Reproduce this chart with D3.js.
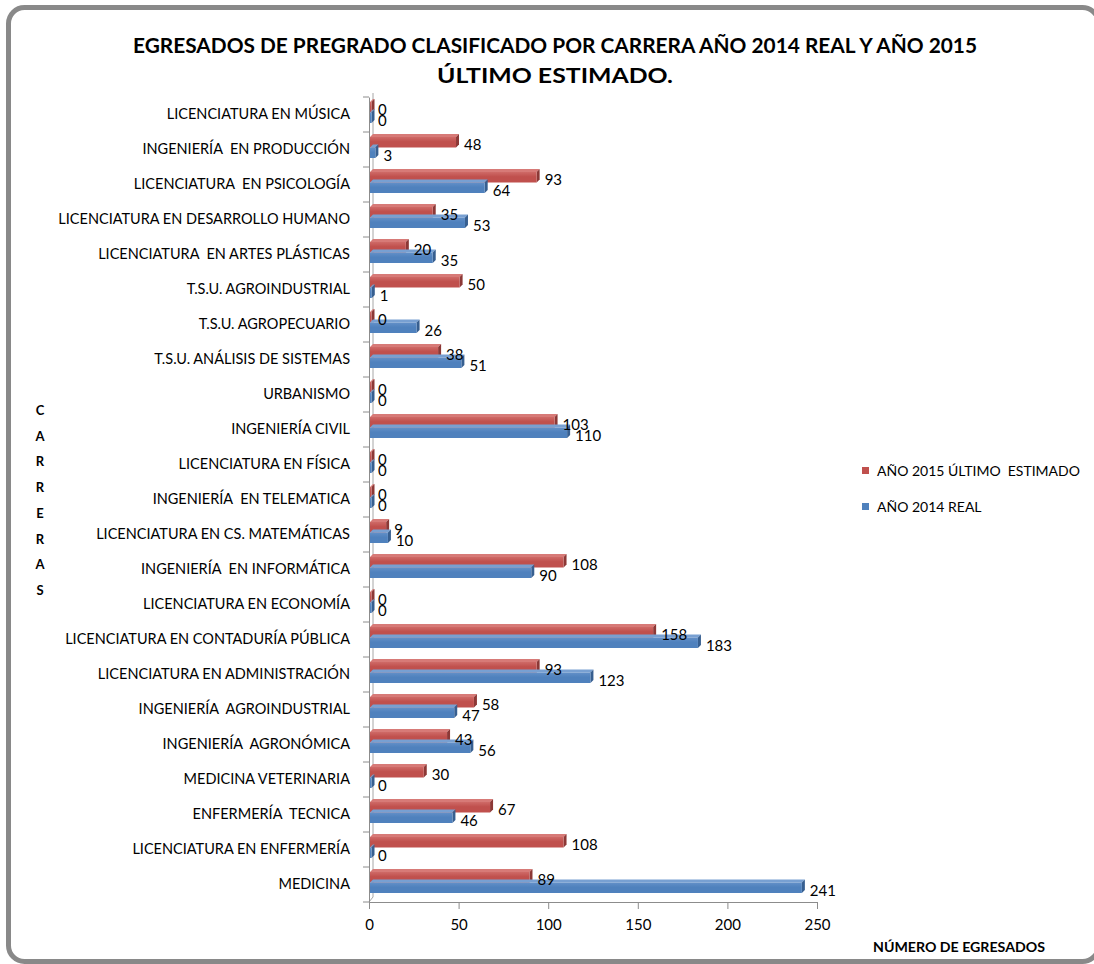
<!DOCTYPE html>
<html>
<head>
<meta charset="utf-8">
<script src="https://cdn.jsdelivr.net/npm/d3@7"></script>
<style>
  body { margin: 0; background: #fff; }
  text { font-family: Lato, "Liberation Sans", sans-serif; fill: #000; }
</style>
</head>
<body>
<div class="chart_wrapper"></div>
<script>
// carreras, de arriba hacia abajo
const carreras = [
  "LICENCIATURA EN MÚSICA",
  "INGENIERÍA  EN PRODUCCIÓN",
  "LICENCIATURA  EN PSICOLOGÍA",
  "LICENCIATURA EN DESARROLLO HUMANO",
  "LICENCIATURA  EN ARTES PLÁSTICAS",
  "T.S.U. AGROINDUSTRIAL",
  "T.S.U. AGROPECUARIO",
  "T.S.U. ANÁLISIS DE SISTEMAS",
  "URBANISMO",
  "INGENIERÍA CIVIL",
  "LICENCIATURA EN FÍSICA",
  "INGENIERÍA  EN TELEMATICA",
  "LICENCIATURA EN CS. MATEMÁTICAS",
  "INGENIERÍA  EN INFORMÁTICA",
  "LICENCIATURA EN ECONOMÍA",
  "LICENCIATURA EN CONTADURÍA PÚBLICA",
  "LICENCIATURA EN ADMINISTRACIÓN",
  "INGENIERÍA  AGROINDUSTRIAL",
  "INGENIERÍA  AGRONÓMICA",
  "MEDICINA VETERINARIA",
  "ENFERMERÍA  TECNICA",
  "LICENCIATURA EN ENFERMERÍA",
  "MEDICINA"
]
const estimado2015 = [0, 48, 93, 35, 20, 50, 0, 38, 0, 103, 0, 0, 9, 108, 0, 158, 93, 58, 43, 30, 67, 108, 89]
const real2014     = [0, 3, 64, 53, 35, 1, 26, 51, 0, 110, 0, 0, 10, 90, 0, 183, 123, 47, 56, 0, 46, 0, 241]
const seriesNames = ["AÑO 2015 ÚLTIMO  ESTIMADO", "AÑO 2014 REAL"]
const xTicks = [0, 50, 100, 150, 200, 250]
const titleLines = ["EGRESADOS DE PREGRADO CLASIFICADO POR CARRERA AÑO 2014 REAL Y AÑO  2015", "ÚLTIMO ESTIMADO."]
const yTitle = "CARRERAS"
const xTitle = "NÚMERO DE EGRESADOS"

const colors = {
  s2015: { front: "#C0504D", top: "#d77a77", side: "#8c3836", light: "#cf6a67" },
  s2014: { front: "#4F81BD", top: "#78a0d2", side: "#375f90", light: "#6390c8" }
}

const width = 1094, height = 964
const depth = 3

const svg = d3.select(".chart_wrapper")
  .append("svg")
    .attr("width", width)
    .attr("height", height)

// gradients for bar faces
const defs = svg.append("defs")
Object.keys(colors).forEach(k => {
  const g = defs.append("linearGradient")
    .attr("id", "grad_" + k)
    .attr("x1", 0).attr("y1", 0).attr("x2", 0).attr("y2", 1)
  g.append("stop").attr("offset", "0%").attr("stop-color", colors[k].light)
  g.append("stop").attr("offset", "45%").attr("stop-color", colors[k].front)
  g.append("stop").attr("offset", "100%").attr("stop-color", colors[k].front)
})

// marco redondeado
svg.append("rect")
  .attr("x", 8.5).attr("y", 7.5)
  .attr("width", 1090).attr("height", 954)
  .attr("rx", 16).attr("ry", 16)
  .attr("fill", "none")
  .attr("stroke", "#898989")
  .attr("stroke-width", 5)

// titulo
svg.selectAll(".title")
  .data(titleLines)
  .enter()
  .append("text")
    .attr("class", "title")
    .attr("x", 555)
    .attr("y", (d, i) => 53 + i * 30)
    .attr("text-anchor", "middle")
    .attr("font-weight", "bold")
    .attr("font-size", 20)
    .attr("textLength", (d, i) => i == 0 ? 844 : 236)
    .attr("lengthAdjust", "spacingAndGlyphs")
    .text(d => d)

const xScale = d3.scaleLinear()
  .domain([0, 250])
  .range([369, 817])

const yScale = d3.scaleBand()
  .domain(carreras)
  .range([97, 902])

const sub = d3.scaleBand()
  .domain(["s2015", "s2014"])
  .range([0, yScale.bandwidth()])
  .paddingOuter(0.667)

// pared y piso 3D
const wall = svg.append("g").attr("stroke", "#a6a6a6").attr("fill", "none")
wall.append("line")
  .attr("x1", xScale(0) + 4).attr("x2", xScale(0) + 4)
  .attr("y1", yScale.range()[0] - 4).attr("y2", yScale.range()[1] - 5)
wall.append("line")
  .attr("x1", xScale(0)).attr("x2", xScale(0) + 4)
  .attr("y1", yScale.range()[1]).attr("y2", yScale.range()[1] - 5)

// eje x
const xAxis = d3.axisBottom(xScale)
  .tickValues(xTicks)
  .tickSize(7)
  .tickSizeOuter(0)
  .tickPadding(10)

const gx = svg.append("g")
  .attr("transform", "translate(0," + yScale.range()[1] + ")")
  .call(xAxis)
gx.select(".domain").attr("stroke", "#8c8c8c")
gx.selectAll(".tick line").attr("stroke", "#8c8c8c")
gx.selectAll(".tick text")
  .attr("font-size", 15)
  .attr("font-family", "Lato, sans-serif")
  .attr("fill", "#000")

// eje y
const yAxis = d3.axisLeft(yScale)
  .tickSize(0)
  .tickPadding(19)

const gy = svg.append("g")
  .attr("transform", "translate(" + xScale(0) + ",0)")
  .call(yAxis)
gy.select(".domain").attr("stroke", "#8c8c8c")
gy.selectAll(".tick text")
  .attr("font-size", 14.5)
  .attr("font-family", "Lato, sans-serif")
  .attr("fill", "#000")
  .style("white-space", "pre")

// marcas de categoria entre bandas
svg.append("g")
  .selectAll("line")
  .data(carreras.concat(["__end"]))
  .enter()
  .append("line")
    .attr("x1", xScale(0) - 6)
    .attr("x2", xScale(0))
    .attr("y1", (d, i) => yScale.range()[0] + i * yScale.step())
    .attr("y2", (d, i) => yScale.range()[0] + i * yScale.step())
    .attr("stroke", "#8c8c8c")

// barras
const rows = []
carreras.forEach((c, i) => {
  rows.push({ carrera: c, key: "s2015", value: estimado2015[i] })
  rows.push({ carrera: c, key: "s2014", value: real2014[i] })
})

const bars = svg.append("g")
  .selectAll("g")
  .data(rows)
  .enter()
  .append("g")

const bx = d => xScale(0) + 1
const bw = d => Math.max(xScale(d.value) - xScale(0), 1.5)
const by = d => yScale(d.carrera) + sub(d.key) - 2
const bh = sub.bandwidth()

// cara superior
bars.append("polygon")
  .attr("points", d => {
    const x = bx(d), y = by(d), w = bw(d)
    return [[x, y], [x + depth, y - depth], [x + w + depth, y - depth], [x + w, y]].join(" ")
  })
  .attr("fill", d => colors[d.key].top)

// cara lateral
bars.append("polygon")
  .attr("points", d => {
    const x = bx(d), y = by(d), w = bw(d)
    return [[x + w, y], [x + w + depth, y - depth], [x + w + depth, y + bh - depth], [x + w, y + bh]].join(" ")
  })
  .attr("fill", d => colors[d.key].side)

// cara frontal
bars.append("rect")
  .attr("x", bx)
  .attr("y", by)
  .attr("width", bw)
  .attr("height", bh)
  .attr("fill", d => "url(#grad_" + d.key + ")")

// etiquetas de valores
svg.append("g")
  .selectAll("text")
  .data(rows)
  .enter()
  .append("text")
    .attr("x", d => xScale(d.value) + depth + 6)
    .attr("y", d => by(d) + bh / 2 + 8)
    .attr("font-size", 15)
    .text(d => d.value)

// titulo eje y, vertical letra por letra
svg.append("g")
  .selectAll("text")
  .data(yTitle.split(""))
  .enter()
  .append("text")
    .attr("x", 40)
    .attr("y", (d, i) => 415 + i * 25.7)
    .attr("text-anchor", "middle")
    .attr("font-weight", "bold")
    .attr("font-size", 13)
    .text(d => d)

// titulo eje x
svg.append("text")
  .attr("x", 959)
  .attr("y", 952)
  .attr("text-anchor", "middle")
  .attr("font-weight", "bold")
  .attr("font-size", 13)
  .attr("textLength", 172)
  .attr("lengthAdjust", "spacingAndGlyphs")
  .text(xTitle)

// leyenda
const legend = svg.append("g")
  .selectAll("g")
  .data(["s2015", "s2014"])
  .enter()
  .append("g")
    .attr("transform", (d, i) => "translate(862," + (467 + i * 36) + ")")

legend.append("rect")
  .attr("width", 7).attr("height", 7)
  .attr("fill", d => colors[d].front)

legend.append("text")
  .attr("x", 15)
  .attr("y", 9)
  .attr("font-size", 14)
  .style("white-space", "pre")
  .text((d, i) => seriesNames[i])
</script>
</body>
</html>
